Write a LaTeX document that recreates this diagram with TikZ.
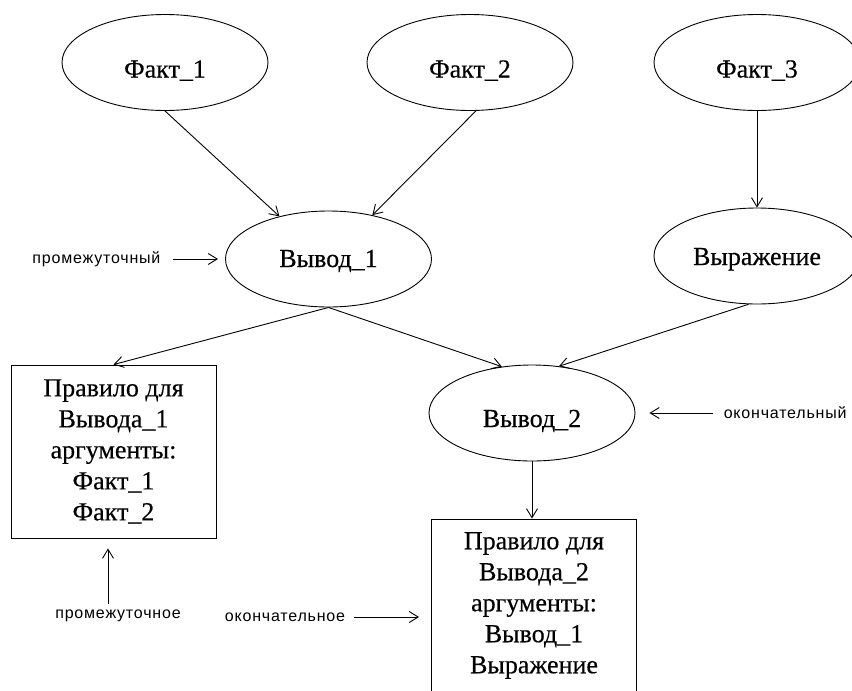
\documentclass[tikz,border=0pt]{standalone}
\usepackage{fontspec}
\setmainfont[FakeBold=0.4]{Liberation Serif}
\newfontfamily\lblfont[LetterSpace=5]{Liberation Sans}
\usetikzlibrary{shapes.geometric,arrows.meta,calc}
\begin{document}
\begin{tikzpicture}[x=1pt,y=-1pt,
  ell/.style={draw, ellipse, minimum width=206pt, minimum height=96pt, inner sep=0pt, text depth=6pt, text height=#1, font=\fontsize{26}{31}\selectfont},
  ell/.default=36pt,
  rulebox/.style={draw, rectangle, minimum width=205pt, minimum height=173pt, inner sep=0pt, align=center, font=\fontsize{26}{31}\selectfont},
  lbl/.style={inner sep=0pt, font=\lblfont\fontsize{16}{18}\selectfont},
  conn/.style={-{Straight Barb[length=9pt,width=11pt]}, line width=0.9pt},
  line width=0.9pt]
\useasboundingbox (0,0) rectangle (852,691);
\clip (0,0) rectangle (852,691);
\fill[white] (0,0) rectangle (852,691);

\node[ell] (f1) at (165,62.5) {Факт\_1};
\node[ell] (f2) at (470,62.5) {Факт\_2};
\node[ell] (f3) at (757,62.5) {Факт\_3};
\node[ell=22pt] (v1) at (328.5,259) {Вывод\_1};
\node[ell=24pt] (ex) at (757,256) {Выражение};
\node[ell=34pt] (v2) at (532,413) {Вывод\_2};
\node[rulebox] (b1) at (113.5,451.5) {Правило для\\Вывода\_1\\аргументы:\\Факт\_1\\Факт\_2};
\node[rulebox] (b2) at (534,605.5) {Правило для\\Вывода\_2\\аргументы:\\Вывод\_1\\Выражение};

\node[lbl, anchor=west] (l1) at (32,259) {промежуточный};
\node[lbl, anchor=east] (l2) at (847,413) {окончательный};
\node[lbl] (l3) at (118,616) {промежуточное};
\node[lbl] (l4) at (285,617) {окончательное};

\draw[conn] (f1.south) -- (v1.139);
\draw[conn] (f2.-83) -- (v1.45);
\draw[conn] (f3.south) -- (ex.north);
\draw[conn] (v1.south) -- (b1.north);
\draw[conn] (v1.south) -- (v2.123);
\draw[conn] (ex.-100) -- (v2.60);
\draw[conn] (v2.south) -- (v2.south |- b2.north);

\draw[conn] ([xshift=12pt]l1.east) -- ([xshift=-7pt]v1.west);
\draw[conn] ([xshift=-10pt]l2.west) -- ([xshift=14pt]v2.east);
\draw[conn] ([xshift=-10pt,yshift=6pt]l3.north) -- ([xshift=-5.5pt,yshift=-10pt]b1.south);
\draw[conn] ([xshift=8pt]l4.east) -- ($(l4.east -| b2.west)+(-12,0)$);
\end{tikzpicture}
\end{document}
